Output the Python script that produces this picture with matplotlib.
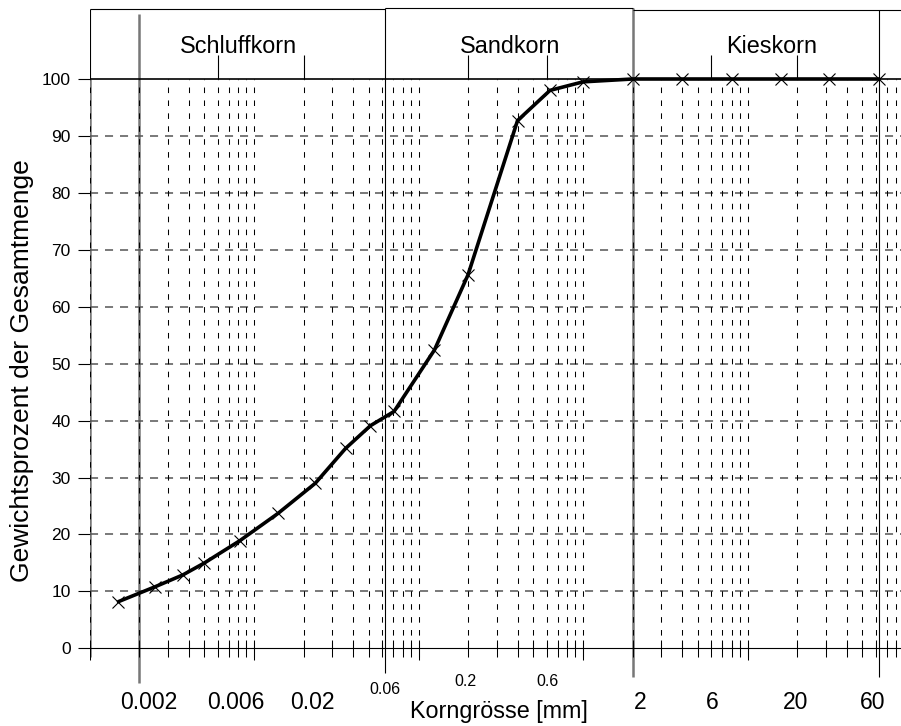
import matplotlib.pyplot as plt
import numpy as np

plt.rcParams["font.family"] = ["Liberation Sans", "DejaVu Sans"]
plt.rcParams["lines.scale_dashes"] = False

# Sieb- und Schlaemmanalyse: Korndurchmesser [mm] und Durchgang [%]
korn_mm = [0.0015, 0.0025, 0.0037, 0.005, 0.0082, 0.014, 0.0236, 0.036, 0.051, 0.071,
           0.125, 0.2, 0.4, 0.63, 1.0, 2.0, 4.0, 8.0, 16.0, 31.5, 63.0]
durchgang = [8.2, 10.8, 12.9, 15.0, 18.9, 23.7, 29.0, 35.1, 39.1, 41.6,
             52.4, 65.6, 92.7, 98.0, 99.5, 100.0, 100.0, 100.0, 100.0, 100.0, 100.0]

bereiche = ["Schluffkorn", "Sandkorn", "Kieskorn"]
grenzen = [0.002, 0.063, 2.0, 63.0]
unterteilung = [0.006, 0.02, 0.2, 0.6, 6.0, 20.0]

labels_gross = ["0.002", "0.006", "0.02", "2", "6", "20", "60"]
labels_klein = ["0.06", "0.2", "0.6"]
y_ticks = list(range(0, 101, 10))

# pixel layout of the reference (x log scale, y linear)
PX0, PX_DEC = 89.5, 164.5
Y0_PX, PX_UNIT = 648.3, 5.693


def px2x(px):
    return 0.001 * 10 ** ((px - PX0) / PX_DEC)


def px2y(py):
    return (Y0_PX - py) / PX_UNIT


fig = plt.figure(figsize=(9.01, 7.26), dpi=100)
ax = fig.add_axes([PX0 / 901, 0, 1 - PX0 / 901, 1])
ax.set_xscale("log")
xmax = px2x(901)
ax.set_xlim(0.001, xmax)
ax.set_ylim(px2y(726), px2y(0))
for s in ax.spines.values():
    s.set_visible(False)
ax.tick_params(axis="x", which="both", bottom=False, labelbottom=False)
ax.set_yticks(y_ticks)
ax.yaxis.set_minor_locator(plt.NullLocator())
ax.tick_params(axis="y", length=8.5, width=0.8, direction="out", pad=5, labelsize=12.5)

# grid positions: 1..9 times each decade
pos = [k * 10.0 ** n for n in range(-3, 2) for k in range(1, 10)]
pos = [p for p in pos if p < xmax]
dekaden = [10.0 ** n for n in range(-3, 2)]

# solid gray lines under the dashes
ax.vlines([0.001], -1.5, 100, colors="#777777", linewidth=1.8, zorder=1)
ax.vlines([0.002], -6.1, 111.5, colors="#777777", linewidth=1.8, zorder=1)
ax.vlines([2.0], -5.0, 112.5, colors="#777777", linewidth=1.8, zorder=1)

ax.hlines(y_ticks[1:-1], 0.001, xmax, colors="#555555", linewidth=1.1,
          linestyles=[(0, (5.8, 5.0))], zorder=2)
ax.vlines(pos, 0, 100, colors="black", linewidth=0.75, linestyles=[(0, (4.0, 5.3))], zorder=2)
ax.vlines(pos, -1.5, 1.5, colors="black", linewidth=0.75, zorder=2)
ax.vlines(dekaden, -2.0, 0, colors="black", linewidth=0.75, zorder=2)

# axis lines at 0 and 100
ax.hlines([0], 0.001, xmax, colors="black", linewidth=0.8, zorder=3)
ax.hlines([100], 0.001, xmax, colors="black", linewidth=1.2, zorder=3)

# header boxes
ax.hlines([112.3], 0.001, grenzen[1], colors="black", linewidth=0.8)
ax.hlines([112.5], grenzen[1], grenzen[2], colors="black", linewidth=0.8)
ax.hlines([112.1], grenzen[2], xmax, colors="black", linewidth=0.8)
ax.vlines([0.001], 100, 112.3, colors="black", linewidth=0.8)
ax.vlines([grenzen[1]], -4.4, 112.5, colors="black", linewidth=0.8, zorder=3)
ax.vlines([grenzen[3]], -5.0, 112.1, colors="black", linewidth=0.8, zorder=3)
ax.vlines(unterteilung, 100, 104.2, colors="black", linewidth=0.8)

kopf_px = [238, 510.5, 771.5]
for name, px in zip(bereiche, kopf_px):
    ax.text(px2x(px), px2y(53), name, ha="center", va="baseline", fontsize=16.8)

# curve
ax.plot(korn_mm, durchgang, color="black", linewidth=2.6, solid_joinstyle="round",
        solid_capstyle="round", marker="x", markersize=9, markeredgewidth=0.8, zorder=5)

# x labels
gross_px = [149, 235.8, 312, 639.7, 712.7, 796, 872.5]
for lab, px in zip(labels_gross, gross_px):
    ax.text(px2x(px), px2y(709), lab, ha="center", va="baseline", fontsize=16.5)
klein_px = [(385, 694), (465.5, 685.5), (547.5, 686.5)]
for lab, (px, py) in zip(labels_klein, klein_px):
    ax.text(px2x(px), px2y(py), lab, ha="center", va="baseline", fontsize=11.5)
ax.text(px2x(499), px2y(718), "Korngrösse [mm]", ha="center", va="baseline", fontsize=16.8)

fig.text(22 / 901, 1 - 371 / 726, "Gewichtsprozent der Gesamtmenge", rotation=90,
         ha="center", va="center", fontsize=19)

fig.savefig("out.png", dpi=100)
